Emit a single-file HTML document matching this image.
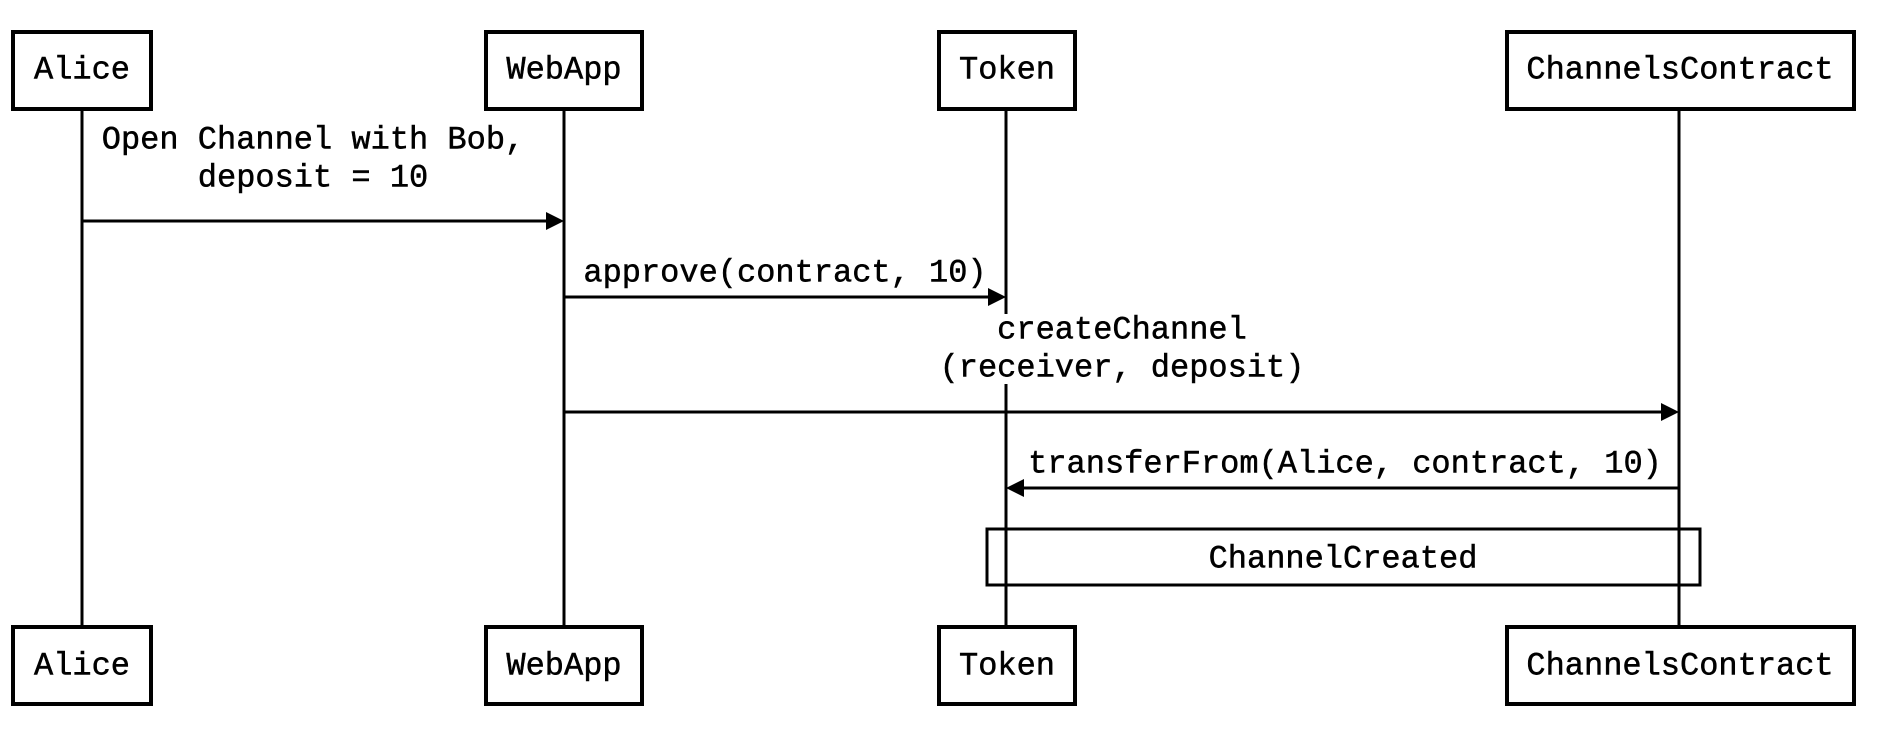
<!DOCTYPE html>
<html><head><style>html,body{margin:0;padding:0;background:#fff}svg{display:block}</style></head>
<body>
<svg width="1898" height="740" viewBox="0 0 1898 740" xmlns="http://www.w3.org/2000/svg" font-family="Liberation Mono, monospace" font-size="32" fill="#000">
<g stroke="#000" stroke-width="3" fill="none">
<line x1="82" y1="110" x2="82" y2="626"/>
<line x1="564" y1="110" x2="564" y2="626"/>
<line x1="1006" y1="110" x2="1006" y2="626"/>
<line x1="1679" y1="110" x2="1679" y2="626"/>
<rect x="13" y="32" width="138" height="77" stroke-width="4"/>
<rect x="486" y="32" width="156" height="77" stroke-width="4"/>
<rect x="939" y="32" width="136" height="77" stroke-width="4"/>
<rect x="1507" y="32" width="347" height="77" stroke-width="4"/>
<rect x="13" y="627" width="138" height="77" stroke-width="4"/>
<rect x="486" y="627" width="156" height="77" stroke-width="4"/>
<rect x="939" y="627" width="136" height="77" stroke-width="4"/>
<rect x="1507" y="627" width="347" height="77" stroke-width="4"/>
<rect x="987" y="529" width="713" height="56"/>
<line x1="82" y1="221" x2="548" y2="221"/>
<line x1="564" y1="297" x2="990" y2="297"/>
<line x1="564" y1="412" x2="1663" y2="412"/>
<line x1="1679" y1="488" x2="1022" y2="488"/>
</g>
<rect x="990" y="314" width="32" height="70" fill="#fff"/>
<g fill="#000">
<polygon points="564,221 546,212 546,230"/>
<polygon points="1006,297 988,288 988,306"/>
<polygon points="1679,412 1661,403 1661,421"/>
<polygon points="1006,488 1024,479 1024,497"/>
</g>
<g text-anchor="middle" dominant-baseline="central" stroke="#000" stroke-width="0.5">
<text x="82" y="70">Alice</text>
<text x="564" y="70">WebApp</text>
<text x="1007" y="70">Token</text>
<text x="1680" y="70">ChannelsContract</text>
<text x="82" y="666">Alice</text>
<text x="564" y="666">WebApp</text>
<text x="1007" y="666">Token</text>
<text x="1680" y="666">ChannelsContract</text>
<text x="313" y="140">Open Channel with Bob,</text>
<text x="313" y="178">deposit = 10</text>
<text x="785" y="273">approve(contract, 10)</text>
<text x="1122" y="330">createChannel</text>
<text x="1122" y="368">(receiver, deposit)</text>
<text x="1345" y="464">transferFrom(Alice, contract, 10)</text>
<text x="1343" y="559">ChannelCreated</text>
</g>
</svg>
</body></html>
